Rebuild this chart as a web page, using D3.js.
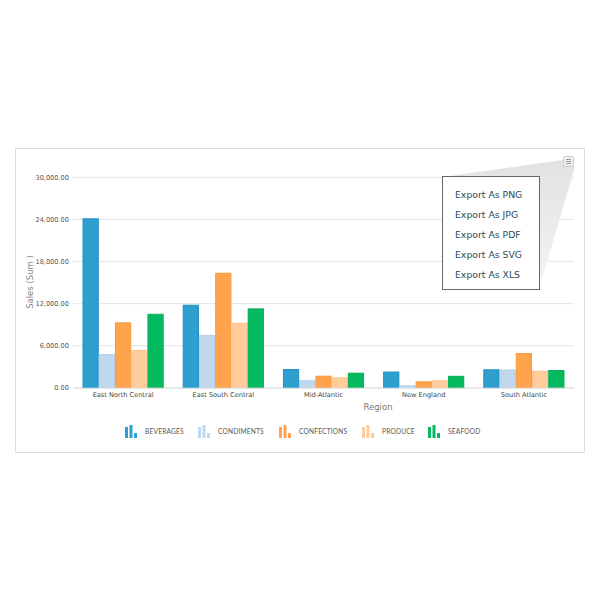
<!DOCTYPE html>
<html><head><meta charset="utf-8">
<script src="https://cdn.jsdelivr.net/npm/d3@7"></script>
<style>
html,body{margin:0;padding:0;background:#fff;}
svg{display:block;}
</style></head>
<body>
<svg id="chart" width="600" height="600"></svg>
<script>
const regions = ["East North Central","East South Central","Mid-Atlantic","New England","South Atlantic"];
const seriesNames = ["BEVERAGES","CONDIMENTS","CONFECTIONS","PRODUCE","SEAFOOD"];
const beverages   = [24150, 11830, 2660, 2300, 2620];
const condiments  = [4800, 7510, 1050, 340, 2600];
const confections = [9320, 16390, 1710, 910, 4950];
const produce     = [5370, 9260, 1480, 1050, 2420];
const seafood     = [10540, 11310, 2140, 1690, 2520];
const yTicks = [0, 6000, 12000, 18000, 24000, 30000];
const exportItems = ["Export As PNG","Export As JPG","Export As PDF","Export As SVG","Export As XLS"];

const seriesValues = [beverages, condiments, confections, produce, seafood];
const fills   = ["#2e9fcf","#c0d7ee","#ffa34d","#ffcc9a","#05b95e"];
const strokes = ["#1f8fc1","#b4cfea","#f79a40","#fbc390","#0aae58"];

const svg = d3.select("#chart");

// card
svg.append("rect").attr("x",15.5).attr("y",148.5).attr("width",569).attr("height",304)
  .attr("fill","#fff").attr("stroke","#dcdcdc").attr("stroke-width",1);

const x0 = d3.scaleBand().domain(regions).range([73,574]).paddingInner(0.19).paddingOuter(0.095);
const x1 = d3.scaleBand().domain(seriesNames).range([0,x0.bandwidth()]).padding(0);
const y = d3.scaleLinear().domain([0,30000]).range([387.7,177.3]);

// grid
const grid = svg.append("g");
grid.selectAll("line").data(yTicks).join("line")
  .attr("x1",73).attr("x2",574)
  .attr("y1",d=>y(d)).attr("y2",d=>y(d))
  .attr("stroke","#e9e9e9").attr("stroke-width",1.2);

// y axis
const yAxis = svg.append("g").attr("transform","translate(73,0)")
  .call(d3.axisLeft(y).tickValues(yTicks).tickFormat(d3.format(",.2f")).tickSize(0).tickPadding(4));
yAxis.select(".domain").remove();
yAxis.selectAll("text").attr("font-family","DejaVu Sans, Verdana, sans-serif").attr("font-size","6.6px").attr("fill","#555");

svg.append("text").attr("transform","translate(33,282) rotate(-90)")
  .attr("text-anchor","middle").attr("font-family","DejaVu Sans, Verdana, sans-serif")
  .attr("font-size","8.5px").attr("fill","#888").text("Sales (Sum )");

// bars
const groups = svg.append("g").selectAll("g").data(regions).join("g")
  .attr("transform",d=>`translate(${x0(d)},0)`);
groups.selectAll("rect").data((r,i)=>seriesNames.map((s,j)=>({s,j,v:seriesValues[j][i]}))).join("rect")
  .attr("x",d=>x1(d.s)+0.5).attr("width",x1.bandwidth()-1)
  .attr("y",d=>y(d.v)+0.5).attr("height",d=>Math.max(0,y(0)-y(d.v)-0.5))
  .attr("fill",d=>fills[d.j]).attr("stroke",d=>strokes[d.j]).attr("stroke-width",1);

// x axis
const xAxis = svg.append("g").attr("transform",`translate(0,${y(0)})`)
  .call(d3.axisBottom(x0).tickSize(0).tickPadding(5));
xAxis.select(".domain").attr("stroke","#e4e4e4");
xAxis.selectAll("text").attr("font-family","DejaVu Sans, Verdana, sans-serif").attr("font-size","6.6px").attr("fill","#444");

svg.append("text").attr("x",378).attr("y",410).attr("text-anchor","middle")
  .attr("font-family","DejaVu Sans, Verdana, sans-serif").attr("font-size","8.5px").attr("fill","#777").text("Region");

// legend
const legendX = [125, 198, 279, 362, 428];
const lg = svg.append("g").selectAll("g").data(seriesNames).join("g")
  .attr("transform",(d,i)=>`translate(${legendX[i]},0)`);
const iconBars = [[0,11],[4.5,13],[9,5]];
lg.each(function(d,i){
  const g = d3.select(this);
  g.selectAll("rect").data(iconBars).join("rect")
    .attr("x",b=>b[0]).attr("width",3).attr("y",b=>438-b[1]).attr("height",b=>b[1])
    .attr("fill",fills[i]);
  g.append("text").attr("x",20).attr("y",434.3).attr("font-family","Lato, DejaVu Sans, sans-serif")
    .attr("font-size","6.6px").attr("fill","#555").attr("letter-spacing","0.2px").text(d);
});

// export menu wedge
const defs = svg.append("defs");
const grad = defs.append("linearGradient").attr("id","wg").attr("x1",0).attr("y1",0).attr("x2",0).attr("y2",1);
grad.append("stop").attr("offset","0%").attr("stop-color","#e2e2e2");
grad.append("stop").attr("offset","100%").attr("stop-color","#f4f4f4");
svg.append("path").attr("d","M563,160 L575,167 L539,289 L442,177 Z").attr("fill","url(#wg)");

// icon
const ic = svg.append("g");
ic.append("rect").attr("x",563.5).attr("y",156.5).attr("width",10).attr("height",10).attr("rx",2)
  .attr("fill","#f2f2f2").attr("stroke","#c8c8c8");
[159.5,161.5,163.5].forEach(yy=>ic.append("line").attr("x1",566).attr("x2",571).attr("y1",yy).attr("y2",yy).attr("stroke","#999").attr("stroke-width",1));

svg.append("rect").attr("x",442.5).attr("y",176.5).attr("width",97).attr("height",113)
  .attr("fill","#fff").attr("stroke","#666").attr("stroke-width",1);
svg.append("g").selectAll("text").data(exportItems).join("text")
  .attr("x",455).attr("y",(d,i)=>197.5+i*20)
  .attr("font-family","DejaVu Sans, Verdana, sans-serif").attr("font-size","9.3px").attr("fill","#2b4a5e")
  .text(d=>d);
</script>
</body></html>
